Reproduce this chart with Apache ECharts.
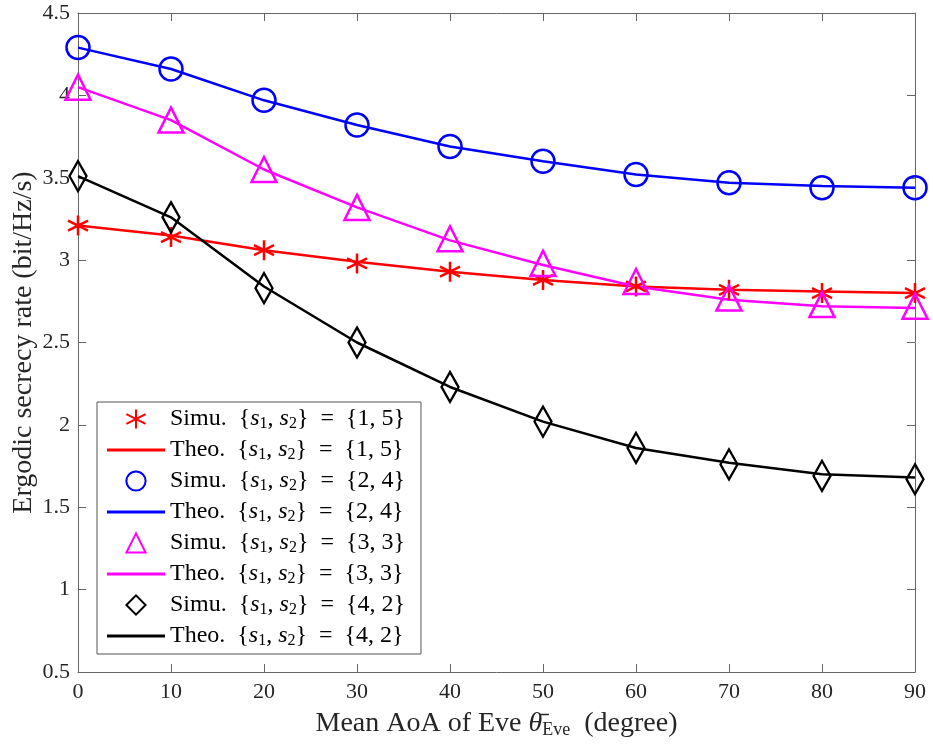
<!DOCTYPE html>
<html>
<head>
<meta charset="utf-8">
<script src="https://cdn.jsdelivr.net/npm/echarts@6/dist/echarts.min.js"></script>
<style>
  html,body{margin:0;padding:0;background:#fff;}
  #main{width:933px;height:751px;}
</style>
</head>
<body>
<div id="main"></div>
<script>
// 横轴: 平均到达角 (degree)
var angles = [0, 10, 20, 30, 40, 50, 60, 70, 80, 90];
// {s1,s2} = {1,5}
var simu15 = [3.21, 3.14, 3.06, 2.98, 2.93, 2.88, 2.84, 2.82, 2.80, 2.80];
var theo15 = [3.21, 3.15, 3.06, 2.99, 2.93, 2.88, 2.84, 2.82, 2.81, 2.80];
// {s1,s2} = {2,4}
var simu24 = [4.29, 4.16, 3.97, 3.82, 3.69, 3.60, 3.52, 3.47, 3.44, 3.44];
var theo24 = [4.29, 4.16, 3.97, 3.82, 3.69, 3.60, 3.52, 3.47, 3.45, 3.44];
// {s1,s2} = {3,3}
var simu33 = [4.05, 3.85, 3.55, 3.32, 3.13, 2.98, 2.87, 2.77, 2.73, 2.72];
var theo33 = [4.05, 3.85, 3.55, 3.32, 3.12, 2.97, 2.84, 2.76, 2.72, 2.71];
// {s1,s2} = {4,2}
var simu42 = [3.51, 3.26, 2.83, 2.50, 2.23, 2.02, 1.86, 1.76, 1.69, 1.67];
var theo42 = [3.51, 3.26, 2.84, 2.50, 2.23, 2.02, 1.86, 1.77, 1.70, 1.68];
var yTicks = [0.5, 1, 1.5, 2, 2.5, 3, 3.5, 4, 4.5];

var serif = "'Liberation Serif', 'DejaVu Serif', serif";
var axisColor = '#666';
var starPath = 'path://M0,-10L0,10M-8.66,-5L8.66,5M-8.66,5L8.66,-5';
var linePath = 'path://M0,0H58V3H0Z';

function pairs(vals){
  return angles.map(function(a,i){ return [a, vals[i]]; });
}
function simuSeries(name, vals, color, symbol, size){
  return {
    name: name, type: 'line', data: pairs(vals),
    symbol: symbol, symbolSize: size, showSymbol: true,
    lineStyle: {width: 0, opacity: 0},
    itemStyle: {color: 'rgba(255,255,255,0)', borderColor: color, borderWidth: 2.5},
    z: 3
  };
}
function theoSeries(name, vals, color){
  return {
    name: name, type: 'line', data: pairs(vals),
    symbol: 'none', showSymbol: false,
    lineStyle: {width: 2.5, color: color},
    itemStyle: {color: color},
    z: 2
  };
}

var pairsList = [
  ['Simu.', '1, 5'], ['Theo.', '1, 5'],
  ['Simu.', '2, 4'], ['Theo.', '2, 4'],
  ['Simu.', '3, 3'], ['Theo.', '3, 3'],
  ['Simu.', '4, 2'], ['Theo.', '4, 2']
];
var names = pairsList.map(function(p){ return p[0] + ' ' + p[1]; });
var legendData = pairsList.map(function(p, i){
  var d = {name: names[i]};
  if (p[0] === 'Theo.') d.icon = linePath;
  return d;
});

var chart = echarts.init(document.getElementById('main'));
var option = {
  backgroundColor: '#fff',
  animation: false,
  grid: {left: 78, right: 18, top: 13, bottom: 79, containLabel: false, outerBoundsMode: 'none'},
  legend: {
    orient: 'vertical',
    left: 97, top: 402,
    padding: [5, 16, 5, 10],
    itemGap: 6,
    itemWidth: 58, itemHeight: 24,
    borderColor: '#555', borderWidth: 1,
    backgroundColor: '#fff',
    data: legendData,
    formatter: function(n){
      var k = n.indexOf(' ');
      return n.slice(0, k) + '  {{it|s}{sub|1}, {it|s}{sub|2}}  =  {' + n.slice(k + 1) + '}';
    },
    textStyle: {
      fontFamily: serif, fontSize: 24, color: '#000',
      rich: {
        it: {fontFamily: serif, fontStyle: 'italic', fontSize: 24, color: '#000'},
        sub: {fontFamily: serif, fontSize: 16, color: '#000', padding: [10, 0, 0, 0]}
      }
    }
  },
  xAxis: [{
    type: 'value', min: 0, max: 90, interval: 10,
    position: 'bottom',
    name: 'Mean AoA of Eve {it|θ̄}{sub|Eve}  (degree)',
    nameLocation: 'middle', nameGap: 37, nameMoveOverlap: false,
    nameTextStyle: {
      fontFamily: serif, fontSize: 28, color: '#262626',
      rich: {
        it: {fontFamily: serif, fontStyle: 'italic', fontSize: 28, color: '#262626'},
        sub: {fontFamily: serif, fontSize: 18, color: '#262626', padding: [12, 0, 0, 0]}
      }
    },
    axisLine: {show: true, lineStyle: {color: axisColor, width: 1}},
    axisTick: {show: true, inside: true, length: 8, lineStyle: {color: axisColor}},
    axisLabel: {fontFamily: serif, fontSize: 22, color: '#262626', margin: 9},
    splitLine: {show: false}
  }, {
    type: 'value', min: 0, max: 90, interval: 10,
    position: 'top',
    axisLine: {show: true, onZero: false, lineStyle: {color: axisColor, width: 1}},
    axisTick: {show: true, inside: true, length: 8, lineStyle: {color: axisColor}},
    axisLabel: {show: false},
    splitLine: {show: false}
  }],
  yAxis: [{
    type: 'value', min: yTicks[0], max: yTicks[yTicks.length - 1], interval: 0.5,
    position: 'left',
    name: 'Ergodic secrecy rate (bit/Hz/s)',
    nameLocation: 'middle', nameGap: 40, nameMoveOverlap: false,
    nameTextStyle: {fontFamily: serif, fontSize: 28, color: '#262626'},
    axisLine: {show: true, onZero: false, lineStyle: {color: axisColor, width: 1}},
    axisTick: {show: true, inside: true, length: 8, lineStyle: {color: axisColor}},
    axisLabel: {fontFamily: serif, fontSize: 22, color: '#262626', margin: 8},
    splitLine: {show: false}
  }, {
    type: 'value', min: yTicks[0], max: yTicks[yTicks.length - 1], interval: 0.5,
    position: 'right',
    axisLine: {show: true, onZero: false, lineStyle: {color: axisColor, width: 1}},
    axisTick: {show: true, inside: true, length: 8, lineStyle: {color: axisColor}},
    axisLabel: {show: false},
    splitLine: {show: false}
  }],
  series: [
    simuSeries(names[0], simu15, '#ff0000', starPath, 20),
    theoSeries(names[1], theo15, '#ff0000'),
    simuSeries(names[2], simu24, '#0000ff', 'circle', 23),
    theoSeries(names[3], theo24, '#0000ff'),
    simuSeries(names[4], simu33, '#ff00ff', 'triangle', 25),
    theoSeries(names[5], theo33, '#ff00ff'),
    simuSeries(names[6], simu42, '#000000', 'diamond', [17, 30]),
    theoSeries(names[7], theo42, '#000000')
  ]
};
chart.setOption(option);
</script>
</body>
</html>
